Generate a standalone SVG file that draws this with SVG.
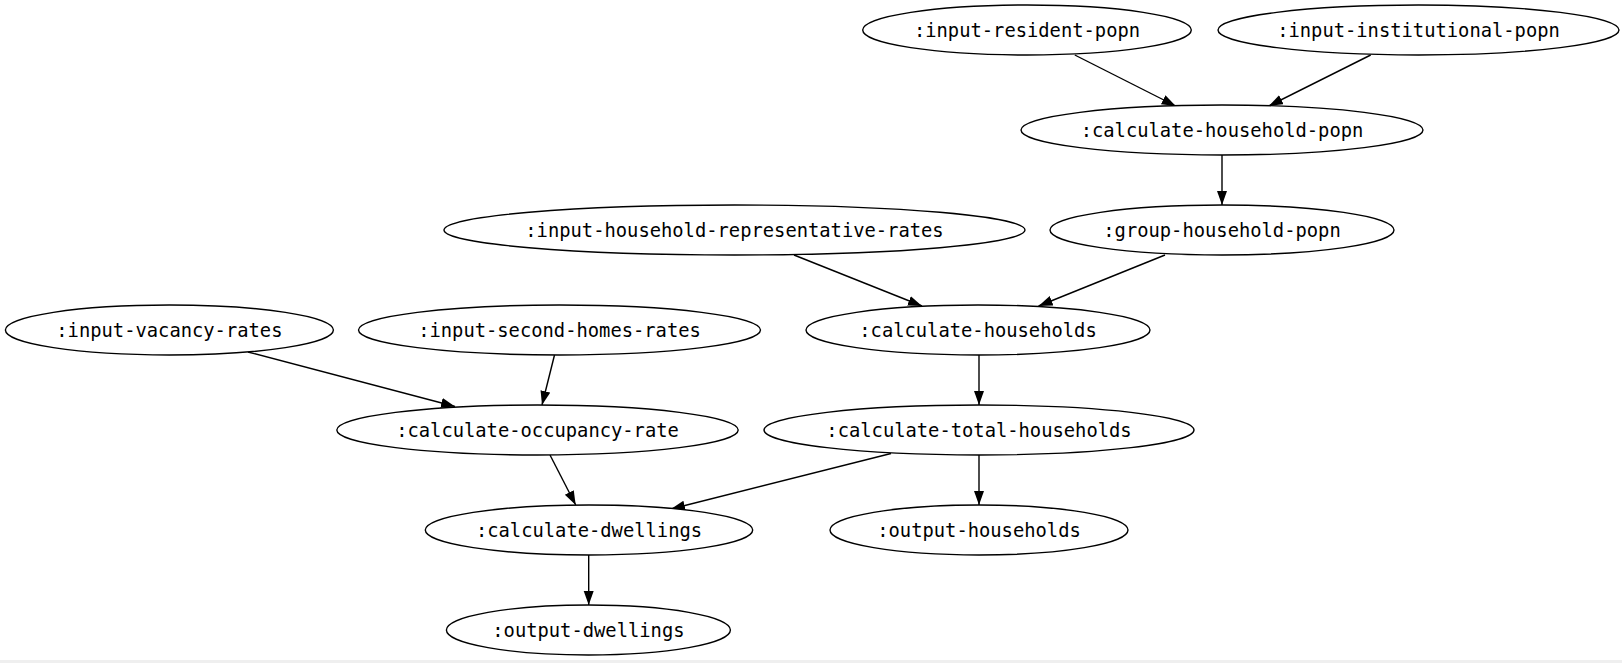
<svg xmlns="http://www.w3.org/2000/svg" width="1622" height="663" viewBox="0 0 1622 663">
<defs>
<marker id="arr" markerUnits="userSpaceOnUse" markerWidth="16" markerHeight="12" refX="14" refY="5" orient="auto">
<path d="M0,0 L14,5 L0,10 Z" fill="#000"/>
</marker>
<style>
.n ellipse{fill:#fff;stroke:#000;stroke-width:1.4}
.n text{font-family:"DejaVu Sans Mono",monospace;font-size:18.8px;fill:#000;text-anchor:middle}
#edges line{stroke:#000;stroke-width:1.4;marker-end:url(#arr)}
</style>
</defs>
<rect x="0" y="0" width="1622" height="663" fill="#fff"/>
<rect x="0" y="660" width="1622" height="3" fill="#efefef"/>
<g id="edges">
<line x1="1074.8" y1="55" x2="1175.7" y2="106"/>
<line x1="1370.7" y1="55" x2="1268.8" y2="106"/>
<line x1="1222" y1="155" x2="1222" y2="205"/>
<line x1="794" y1="255" x2="922" y2="306"/>
<line x1="1165" y1="255" x2="1038.6" y2="306"/>
<line x1="248" y1="352" x2="455" y2="406.5"/>
<line x1="554.5" y1="355" x2="542" y2="405"/>
<line x1="979" y1="355" x2="979" y2="405"/>
<line x1="550" y1="455" x2="575.7" y2="505"/>
<line x1="891" y1="453.5" x2="671" y2="509"/>
<line x1="979" y1="455" x2="979" y2="505"/>
<line x1="588.7" y1="555" x2="588.7" y2="605"/>
</g>
<g id="input-resident-popn" class="n"><ellipse cx="1027" cy="30" rx="164.3" ry="25"/><text x="1027" y="36.5">:input-resident-popn</text></g>
<g id="input-institutional-popn" class="n"><ellipse cx="1418.5" cy="30" rx="200.5" ry="25"/><text x="1418.5" y="36.5">:input-institutional-popn</text></g>
<g id="calculate-household-popn" class="n"><ellipse cx="1222" cy="130" rx="201" ry="25"/><text x="1222" y="136.5">:calculate-household-popn</text></g>
<g id="input-household-representative-rates" class="n"><ellipse cx="734.5" cy="230" rx="290.5" ry="25"/><text x="734.5" y="236.5">:input-household-representative-rates</text></g>
<g id="group-household-popn" class="n"><ellipse cx="1222" cy="230" rx="172" ry="25"/><text x="1222" y="236.5">:group-household-popn</text></g>
<g id="input-vacancy-rates" class="n"><ellipse cx="169.4" cy="330" rx="164" ry="25"/><text x="169.4" y="336.5">:input-vacancy-rates</text></g>
<g id="input-second-homes-rates" class="n"><ellipse cx="559.5" cy="330" rx="201" ry="25"/><text x="559.5" y="336.5">:input-second-homes-rates</text></g>
<g id="calculate-households" class="n"><ellipse cx="978" cy="330" rx="172" ry="25"/><text x="978" y="336.5">:calculate-households</text></g>
<g id="calculate-occupancy-rate" class="n"><ellipse cx="537.5" cy="430" rx="200.7" ry="25"/><text x="537.5" y="436.5">:calculate-occupancy-rate</text></g>
<g id="calculate-total-households" class="n"><ellipse cx="979" cy="430" rx="215" ry="25"/><text x="979" y="436.5">:calculate-total-households</text></g>
<g id="calculate-dwellings" class="n"><ellipse cx="589" cy="530" rx="163.7" ry="25"/><text x="589" y="536.5">:calculate-dwellings</text></g>
<g id="output-households" class="n"><ellipse cx="979" cy="530" rx="149" ry="25"/><text x="979" y="536.5">:output-households</text></g>
<g id="output-dwellings" class="n"><ellipse cx="588.4" cy="630" rx="142" ry="25"/><text x="588.4" y="636.5">:output-dwellings</text></g>
</svg>
